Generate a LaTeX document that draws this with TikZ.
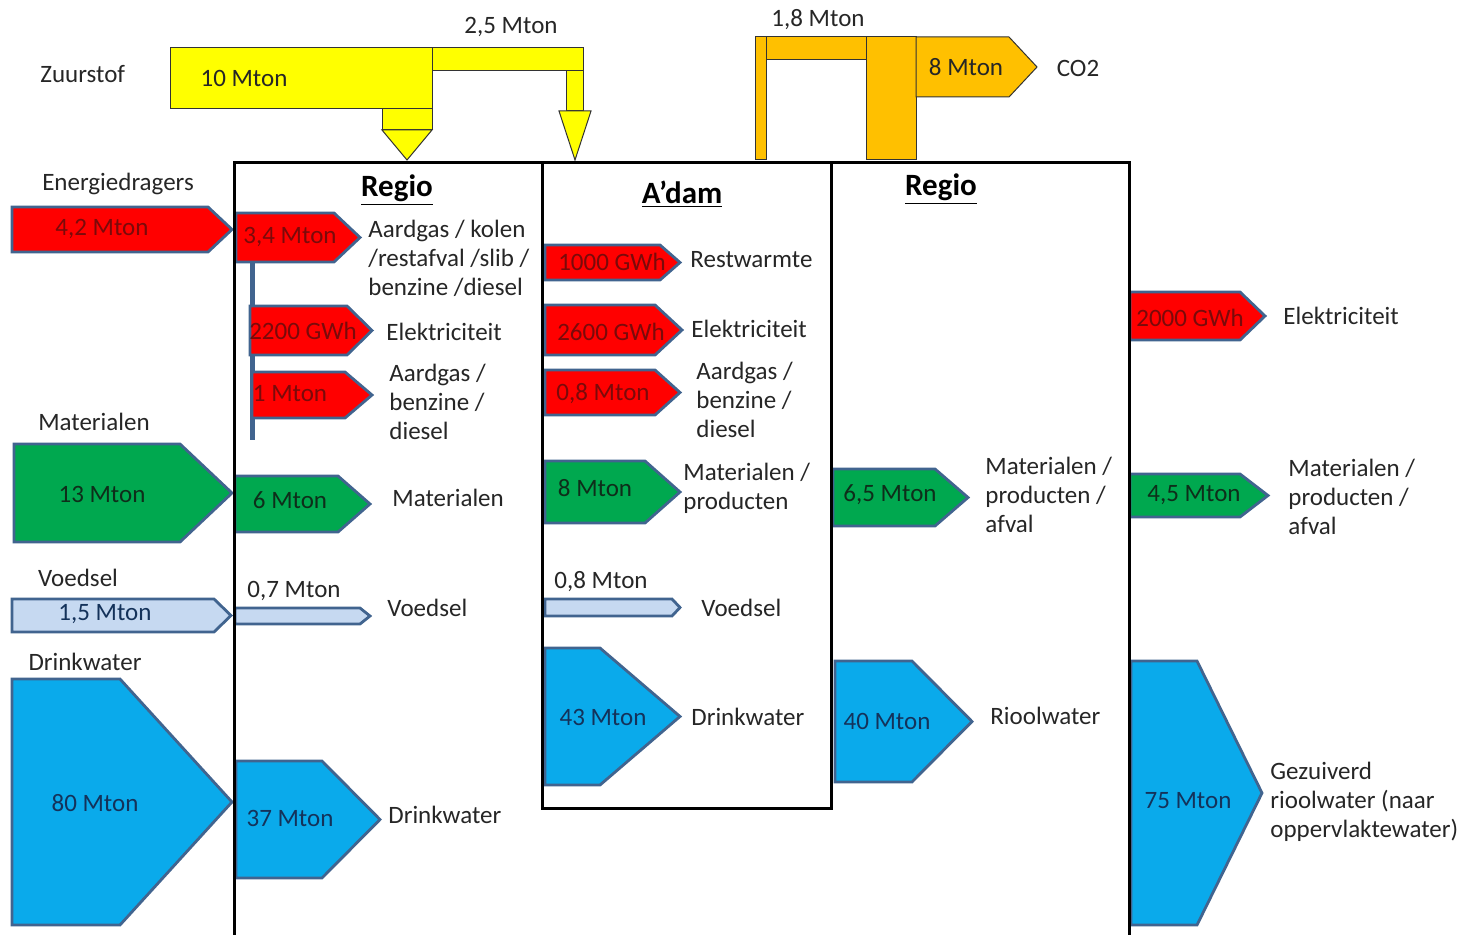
\documentclass[tikz,border=0pt]{standalone}
\usepackage{fontspec}
\setmainfont{Carlito}
\definecolor{outl}{HTML}{41648F}
\definecolor{fred}{HTML}{FF0000}
\definecolor{fgreen}{HTML}{00A84F}
\definecolor{flight}{HTML}{C6D9F1}
\definecolor{fblue}{HTML}{0AAAEB}
\definecolor{fyel}{HTML}{FFFF00}
\definecolor{forange}{HTML}{FFC000}
\definecolor{txt}{HTML}{262626}
\definecolor{tred}{HTML}{7A0A0A}
\definecolor{tgreen}{HTML}{0E2E1A}
\definecolor{tblue}{HTML}{14325A}
\newcommand\flowshape[6]{%
  \path[#1] (#2,#3) -- (#5,#3) -- (#6,{(#3+#4)/2}) -- (#5,#4) -- (#2,#4) -- cycle;}
\tikzset{
  lbl/.style={font=\fontsize{12.5}{14.5}\selectfont, text=txt, inner sep=0pt},
  lft/.style={lbl, anchor=west, align=left},
  ttl/.style={font=\fontsize{15.5}{18}\selectfont\bfseries, text=black, inner sep=0pt},
  redf/.style={fill=fred, draw=outl, line width=1.4pt, line join=miter},
  greenf/.style={fill=fgreen, draw=outl, line width=1.4pt},
  lightf/.style={fill=flight, draw=outl, line width=1.4pt},
  bluef/.style={fill=fblue, draw=outl, line width=1.4pt},
  yelf/.style={fill=fyel, draw=black!80, line width=0.5pt},
  orf/.style={fill=forange, draw=black!80, line width=0.5pt},
  frame/.style={draw=black, line width=1.5pt},
  rl/.style={lbl, text=tred},
  gl/.style={lbl, text=tgreen},
  bl/.style={lbl, text=tblue}
}
\begin{document}
\begin{tikzpicture}[x=0.5pt,y=-0.5pt]
\useasboundingbox[fill=white] (0,0) rectangle (1460,935);

% ---- oxygen (yellow)
\path[yelf] (170,48) rectangle (432,109);
\path[yelf] (432,48) rectangle (583,71);
\path[yelf] (566,71) rectangle (583,111);
\path[yelf] (559,111) -- (591,111) -- (575,160) -- cycle;
\path[yelf] (382,109) rectangle (432,130);
\path[yelf] (382,130) -- (432,130) -- (407,160) -- cycle;
\node[lbl] (o10) at (244,78) {10 Mton};
\node[lbl] (o25) at (511,27) {2,5 Mton};
\node[lbl, anchor=west] (zuur) at (40,74) {Zuurstof};

% ---- CO2 (orange)
\path[orf] (755,37) rectangle (766,160);
\path[orf] (766,37) rectangle (866,60);
\path[orf] (866,37) rectangle (916,160);
\path[orf] (916,37) -- (1009,37) -- (1037,67) -- (1009,97) -- (916,97) -- cycle;
\node[lbl] (c18) at (818,20) {1,8 Mton};
\node[lbl] (c8) at (966,67) {8 Mton};
\node[lbl] (co2) at (1078,68) {CO2};

% ---- left inputs
\node[lbl] (energ) at (118,184) {Energiedragers};
\flowshape{redf}{12}{207}{252}{208}{232}
\node[rl] (e42) at (102,229) {4,2 Mton};
\node[lbl] (mat) at (94,422) {Materialen};
\flowshape{greenf}{14}{444}{542}{180}{232}
\node[gl] (m13) at (102,494) {13 Mton};
\node[lbl] (voed) at (78,578) {Voedsel};
\flowshape{lightf}{12}{599}{632}{214}{231}
\node[bl] (v15) at (105,614) {1,5 Mton};
\node[lbl] (drink) at (85,662) {Drinkwater};
\flowshape{bluef}{12}{679}{925}{120}{232}
\node[bl] (d80) at (95,803) {80 Mton};

% ---- left Regio
\draw[outl, line width=2.5pt] (252,258) -- (252,440);
\flowshape{redf}{236}{213}{262}{334}{360}
\node[rl] (r34) at (290,237) {3,4 Mton};
\flowshape{redf}{250}{306}{355}{347}{372}
\node[rl] (r2200) at (303,331) {2200 GWh};
\flowshape{redf}{252}{372}{418}{345}{372}
\node[rl] (r1) at (290,394) {1 Mton};
\flowshape{greenf}{235}{476}{532}{338}{370}
\node[gl] (r6) at (290,500) {6 Mton};
\flowshape{lightf}{235}{608}{624}{360}{370}
\node[lbl] (r07) at (294,591) {0,7 Mton};
\flowshape{bluef}{236}{761}{878}{322}{380}
\node[bl] (r37) at (290,818) {37 Mton};

\node[lft] (t1) at (368,258) {Aardgas / kolen\\/restafval /slib /\\benzine /diesel};
\node[lft] (t2) at (386,332) {Elektriciteit};
\node[lft] (t3) at (389,402) {Aardgas /\\benzine /\\diesel};
\node[lft] (t4) at (392,498) {Materialen};
\node[lft] (t5) at (387,608) {Voedsel};
\node[lft] (t6) at (388,815) {Drinkwater};

% ---- A'dam
\flowshape{redf}{545}{245}{280}{660}{680}
\node[rl] (a1000) at (612,262) {1000 GWh};
\flowshape{redf}{545}{305}{355}{655}{682}
\node[rl] (a2600) at (611,332) {2600 GWh};
\flowshape{redf}{545}{370}{415}{655}{680}
\node[rl] (a08) at (603,394) {0,8 Mton};
\flowshape{greenf}{545}{461}{523}{645}{680}
\node[gl] (a8) at (595,488) {8 Mton};
\flowshape{lightf}{545}{599}{616}{672}{680}
\node[lbl] (a08v) at (601,582) {0,8 Mton};
\flowshape{bluef}{545}{648}{785}{600}{680}
\node[bl] (a43) at (603,717) {43 Mton};

\node[lft] (u1) at (690,260) {Restwarmte};
\node[lft] (u2) at (691,329) {Elektriciteit};
\node[lft] (u3) at (696,400) {Aardgas /\\benzine /\\diesel};
\node[lft] (u4) at (683,488) {Materialen /\\producten};
\node[lft] (u5) at (701,608) {Voedsel};
\node[lft] (u6) at (691,717) {Drinkwater};

% ---- right Regio
\flowshape{greenf}{833}{469}{526}{935}{968}
\node[gl] (g65) at (890,495) {6,5 Mton};
\flowshape{bluef}{835}{661}{782}{912}{972}
\node[bl] (g40) at (887,721) {40 Mton};
\node[lft] (w1) at (985,495) {Materialen /\\producten /\\afval};
\node[lft] (w2) at (990,716) {Rioolwater};

% ---- outputs
\flowshape{redf}{1130}{292}{340}{1240}{1265}
\node[rl] (o2000) at (1190,318) {2000 GWh};
\flowshape{greenf}{1130}{474}{517}{1240}{1268}
\node[gl] (o45) at (1194,495) {4,5 Mton};
\flowshape{bluef}{1131}{661}{925}{1197}{1262}
\node[bl] (o75) at (1188,801) {75 Mton};
\node[lft] (x1) at (1283,316) {Elektriciteit};
\node[lft] (x2) at (1288,497) {Materialen /\\producten /\\afval};
\node[lft] (x3) at (1270,802) {Gezuiverd\\rioolwater (naar\\oppervlaktewater)};

% ---- frames
\draw[frame] (234,935) -- (234,163) -- (1129,163) -- (1129,935);
\draw[frame] (542,163) rectangle (831,808);

% ---- titles
\node[ttl] (reg1) at (397,190) {\underline{Regio}};
\node[ttl] (adam) at (682,194) {\underline{A’dam}};
\node[ttl] (reg2) at (941,189) {\underline{Regio}};
\end{tikzpicture}
\end{document}
